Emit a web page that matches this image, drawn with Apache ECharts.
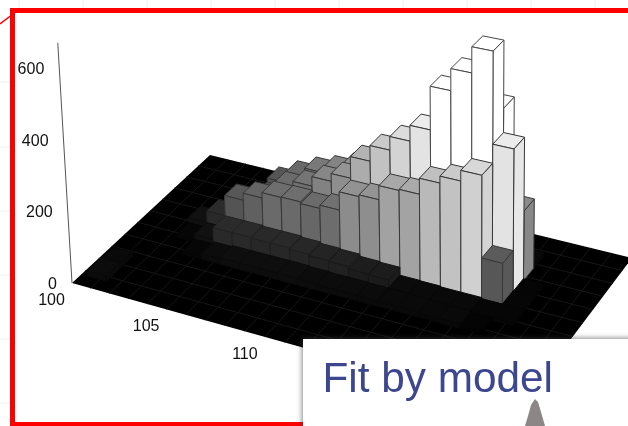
<!DOCTYPE html>
<html>
<head>
<meta charset="utf-8">
<style>
  html, body { margin: 0; padding: 0; background: #fff; }
  #main { width: 628px; height: 426px; }
</style>
</head>
<body>
<div id="main"></div>
<script src="https://cdn.jsdelivr.net/npm/echarts@6/dist/echarts.min.js"></script>
<script>
// value axis ticks
var zTicks = [0, 200, 400, 600];
var xTicks = [100, 105, 110];

// bar heights per depth row, front row first, one value per x bin (100..121)
var row0  = [15, 0, 0, 0, 0, 0, 0, 0, 0, 0, 0, 0, 0, 0, 0, 0, 0, 0, 0, 0, 0, 0];
var row1  = [12, 0, 0, 0, 0, 0, 0, 0, 0, 0, 0, 0, 0, 0, 0, 0, 0, 0, 0, 0, 0, 0];
var row2  = [0, 0, 0, 0, 0, 0, 0, 0, 0, 0, 0, 0, 0, 0, 0, 0, 0, 0, 0, 0, 0, 0];
var row3  = [0, 0, 0, 8, 15, 18, 18, 18, 18, 16, 15, 15, 14, 13, 13, 11, 11, 5, 0, 0, 0, 0];
var row4  = [0, 0, 8, 22, 55, 55, 53, 53, 50, 46, 44, 38, 36, 14, 13, 11, 11, 8, 8, 0, 0, 0];
var row5  = [0, 0, 22, 55, 113, 133, 148, 149, 144, 153, 204, 209, 248, 251, 295, 314, 343, 118, 8, 0, 0, 0];
var row6  = [0, 0, 0, 38, 66, 99, 143, 160, 187, 209, 270, 314, 352, 396, 517, 578, 650, 395, 6, 0, 0, 0];
var row7  = [0, 0, 0, 11, 44, 110, 141, 165, 182, 204, 220, 253, 286, 330, 374, 418, 462, 192, 0, 0, 0, 0];
var row8  = [0, 0, 0, 0, 33, 55, 66, 77, 66, 55, 44, 44, 44, 44, 44, 44, 44, 11, 0, 0, 0, 0];
var row9  = [0, 0, 0, 0, 0, 6, 8, 8, 8, 8, 6, 6, 6, 6, 6, 6, 6, 0, 0, 0, 0, 0];
var row10 = [0, 0, 0, 0, 0, 0, 0, 0, 0, 0, 0, 0, 0, 0, 0, 0, 0, 0, 0, 0, 0, 0];

var rows = [row0, row1, row2, row3, row4, row5, row6, row7, row8, row9, row10];
var xStart = 100, xBins = row0.length, depthBins = rows.length;
// the floor starts a little before the first bin
var xMin = xStart - 0.35, depthMin = -0.69;

// floor corners on the page, used for the perspective of the 3d view
var P00 = [72, 283], P10 = [519, 408], P01 = [210, 155], P11 = [632, 258];
var vanish = [470, 7000];
var zPixel = 0.358;

var homo = (function () {
    var dx1 = P10[0] - P11[0], dx2 = P01[0] - P11[0], sx = P00[0] - P10[0] + P11[0] - P01[0];
    var dy1 = P10[1] - P11[1], dy2 = P01[1] - P11[1], sy = P00[1] - P10[1] + P11[1] - P01[1];
    var den = dx1 * dy2 - dx2 * dy1;
    var g = (sx * dy2 - dx2 * sy) / den;
    var h = (dx1 * sy - sx * dy1) / den;
    return {
        a: P10[0] - P00[0] + g * P10[0], b: P01[0] - P00[0] + h * P01[0], c: P00[0],
        d: P10[1] - P00[1] + g * P10[1], e: P01[1] - P00[1] + h * P01[1], f: P00[1],
        g: g, h: h
    };
})();

// x, depth go through the (hidden) cartesian axes, then on to the floor plane; z lifts the point
function project(api, sys, x, depth, z) {
    var c = api.coord([x, depth]);
    var u = (c[0] - sys.x) / sys.width;
    var v = (sys.y + sys.height - c[1]) / sys.height;
    var w = homo.g * u + homo.h * v + 1;
    var px = (homo.a * u + homo.b * v + homo.c) / w;
    var py = (homo.d * u + homo.e * v + homo.f) / w;
    var dx = px - vanish[0], dy = py - vanish[1];
    var len = Math.sqrt(dx * dx + dy * dy);
    var lift = zPixel * z / w;
    return [px + dx / len * lift, py + dy / len * lift];
}

// height to grey
function barGrey(z) {
    var g = echarts.number.linearMap;
    if (z < 113) return g(z, [0, 113], [0, 84]);
    if (z < 204) return g(z, [113, 204], [84, 140]);
    if (z < 343) return g(z, [204, 343], [140, 208]);
    return Math.min(255, g(z, [343, 473], [208, 255]));
}
function rgb(v) {
    v = Math.round(Math.max(0, Math.min(255, v)));
    return 'rgb(' + v + ',' + v + ',' + v + ')';
}

var barData = [];
for (var r = depthBins - 1; r >= 0; r--) {
    for (var i = 0; i < xBins; i++) {
        if (rows[r][i] > 0) barData.push([xStart + i, r, rows[r][i]]);
    }
}

function lineShape(a, b) {
    return { x1: a[0], y1: a[1], x2: b[0], y2: b[1] };
}

function renderFloor(params, api) {
    var sys = params.coordSys;
    var xMax = xMin + xBins, depthMax = depthMin + depthBins;
    var children = [{
        type: 'polygon',
        shape: { points: [
            project(api, sys, xMin, depthMin, 0),
            project(api, sys, xMax, depthMin, 0),
            project(api, sys, xMax, depthMax, 0),
            project(api, sys, xMin, depthMax, 0)
        ] },
        style: { fill: '#000' }
    }];
    for (var i = 1; i < xBins; i++) {
        children.push({
            type: 'line',
            shape: lineShape(project(api, sys, xMin + i, depthMin, 0), project(api, sys, xMin + i, depthMax, 0)),
            style: { stroke: '#161616', lineWidth: 1 }
        });
    }
    for (var r = 1; r < depthBins; r++) {
        children.push({
            type: 'line',
            shape: lineShape(project(api, sys, xMin, depthMin + r, 0), project(api, sys, xMax, depthMin + r, 0)),
            style: { stroke: '#161616', lineWidth: 1 }
        });
    }
    // z axis with its labels
    children.push({
        type: 'line',
        shape: lineShape(project(api, sys, xMin, depthMin, 0), project(api, sys, xMin, depthMin, 672)),
        style: { stroke: '#555', lineWidth: 1 }
    });
    zTicks.forEach(function (t) {
        var p = project(api, sys, xMin, depthMin, t);
        children.push({
            type: 'text',
            style: { text: String(t), x: p[0] - 15, y: p[1] + 1.5, align: 'right', verticalAlign: 'middle', fill: '#111', font: '16px "Liberation Sans", Arial, sans-serif' }
        });
    });
    xTicks.forEach(function (t) {
        var p = project(api, sys, t, depthMin, 0);
        children.push({
            type: 'text',
            style: { text: String(t), x: p[0] - 27, y: p[1] + 15.5, align: 'center', verticalAlign: 'middle', fill: '#111', font: '16px "Liberation Sans", Arial, sans-serif' }
        });
    });
    return { type: 'group', children: children };
}

function renderBar(params, api) {
    var sys = params.coordSys;
    var x = api.value(0), r = api.value(1), z = api.value(2);
    var fl = project(api, sys, x, r, 0), fr = project(api, sys, x + 1, r, 0), br = project(api, sys, x + 1, r + 1, 0);
    var tfl = project(api, sys, x, r, z), tfr = project(api, sys, x + 1, r, z);
    var tbr = project(api, sys, x + 1, r + 1, z), tbl = project(api, sys, x, r + 1, z);
    var grey = barGrey(z);
    var edge = grey > 70 ? (grey > 240 ? 70 : 55) : grey * 0.8;
    var st = { stroke: rgb(edge), lineWidth: 1, lineJoin: 'round' };
    function face(points, fill) {
        return { type: 'polygon', shape: { points: points }, style: Object.assign({ fill: rgb(fill) }, st) };
    }
    return {
        type: 'group',
        children: [
            face([fr, br, tbr, tfr], grey * 1.02),
            face([tfl, tfr, tbr, tbl], grey * 1.04),
            face([fl, fr, tfr, tfl], grey)
        ]
    };
}

var graphics = [];
// faint slide grid showing outside the red frame
[19, 83, 147, 211, 275, 339, 403, 467, 531, 595].forEach(function (gx) {
    graphics.push({ type: 'line', shape: { x1: gx, y1: 0, x2: gx, y2: 8 }, style: { stroke: '#eef0f8' } });
});
[18, 82, 147, 211, 275, 339, 403].forEach(function (gy) {
    graphics.push({ type: 'line', shape: { x1: 0, y1: gy, x2: 10, y2: gy }, style: { stroke: '#eef0f8' } });
});
// red frame
graphics.push({ type: 'rect', z: 90, shape: { x: 12.5, y: 10.5, width: 640, height: 414 }, style: { fill: 'none', stroke: '#ff0000', lineWidth: 5 } });
graphics.push({ type: 'line', z: 90, shape: { x1: 0, y1: 24, x2: 13, y2: 14 }, style: { stroke: '#ff0000', lineWidth: 1.5 } });
// overlapping slide box
graphics.push({ type: 'rect', z: 100, shape: { x: 303, y: 339, width: 340, height: 100 }, style: { fill: '#fff', shadowBlur: 5, shadowColor: 'rgba(60,60,60,0.6)', shadowOffsetX: -1, shadowOffsetY: -1 } });
graphics.push({ type: 'text', z: 101, style: { text: 'Fit by model', x: 322.5, y: 380, verticalAlign: 'middle', fill: '#3c4790', font: '42.3px "Liberation Sans", Arial, sans-serif' } });
graphics.push({ type: 'polygon', z: 101, shape: { points: [[535, 399], [531, 405], [528, 416], [525, 426], [545, 426], [541, 412], [538, 402]] }, style: { fill: '#8d8687' } });

var chart = echarts.init(document.getElementById('main'));
chart.setOption({
    animation: false,
    backgroundColor: '#fff',
    grid: { left: 0, right: 0, top: 0, bottom: 0 },
    xAxis: { type: 'value', min: xMin, max: xMin + xBins, show: false },
    yAxis: { type: 'value', min: depthMin, max: depthMin + depthBins, show: false },
    graphic: graphics,
    series: [{
        type: 'custom',
        silent: true,
        clip: false,
        data: [[xMin, 0]],
        renderItem: renderFloor,
        z: 2
    }, {
        type: 'custom',
        silent: true,
        clip: false,
        data: barData,
        renderItem: renderBar,
        z: 3
    }]
});
</script>
</body>
</html>
